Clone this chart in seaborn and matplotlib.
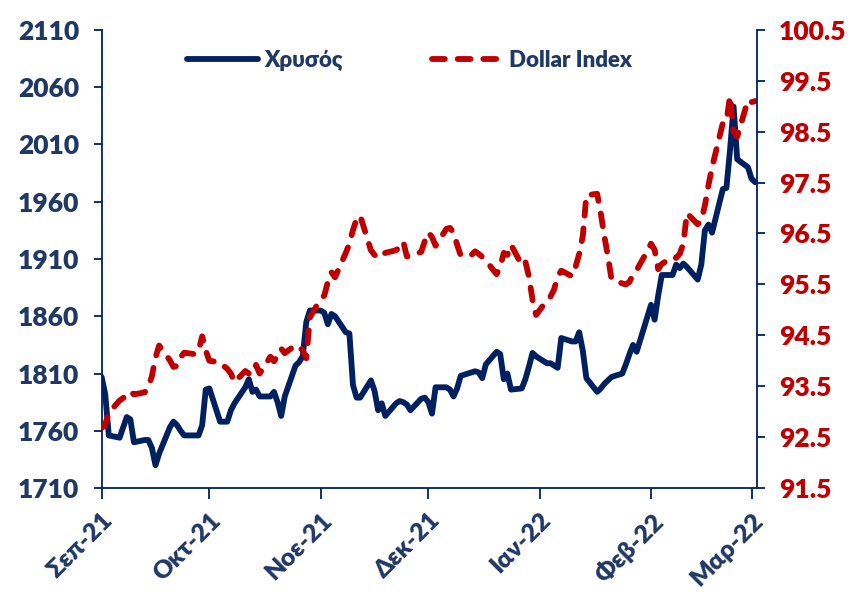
import numpy as np
import pandas as pd
import matplotlib
matplotlib.use("Agg")
import matplotlib.pyplot as plt
import seaborn as sns


NAVY = "#002060"
TEXT_NAVY = "#203864"
RED = "#C00000"

# business days, 1 Sep 2021 -> 2 Mar 2022
dates = pd.bdate_range("2021-09-01", "2022-03-02")

gold = [
	# Sep
	1807, 1792, 1756, 1754, 1763, 1772, 1770, 1750, 1752, 1752, 1745,
	1730, 1740, 1763, 1768, 1765, 1760, 1756, 1756, 1756, 1765, 1796,
	# Oct
	1797, 1768, 1768, 1768, 1778, 1784, 1798, 1805, 1794, 1796, 1790,
	1790, 1794, 1785, 1773, 1790, 1817, 1820, 1825, 1855, 1865,
	# Nov
	1865, 1863, 1853, 1862, 1860, 1846, 1845, 1800, 1789, 1789, 1804,
	1795, 1778, 1784, 1773, 1784, 1786, 1785, 1783, 1778, 1788, 1789,
	# Dec
	1785, 1775, 1798, 1798, 1796, 1790, 1797, 1808, 1811, 1812, 1811,
	1806, 1818, 1829, 1827, 1805, 1810, 1796, 1797, 1805, 1816, 1828, 1825,
	# Jan
	1819, 1819, 1817, 1815, 1841, 1838, 1838, 1846, 1830, 1806, 1794,
	1797, 1801, 1804, 1807, 1810, 1818, 1827, 1835, 1829, 1860,
	# Feb
	1870, 1857, 1878, 1896, 1896, 1905, 1902, 1906, 1903, 1892,
	1905, 1935, 1940, 1933, 1971, 1972, 2005, 2043, 1997, 1990,
	# Mar
	1980, 1977,
]

dollar_index = [
	# Sep
	92.68, 92.75, 92.98, 93.22, 93.27, 93.33, 93.40, 93.34, 93.38, 93.48, 93.70,
	94.06, 94.30, 94.01, 93.88, 93.90, 94.07, 94.16, 94.13, 94.20, 94.48, 94.20,
	# Oct
	94.00, 93.97, 93.90, 93.84, 93.75, 93.58, 93.80, 93.75, 93.74, 93.92, 93.75,
	94.08, 93.99, 94.10, 94.24, 94.15, 94.31, 94.26, 94.21, 94.05, 94.85,
	# Nov
	95.22, 95.28, 95.55, 95.74, 95.64, 96.12, 96.30, 96.57, 96.78, 96.85, 96.17,
	96.08, 96.02, 96.07, 96.12, 96.17, 96.24, 96.34, 96.05, 96.05, 96.14, 96.35,
	# Dec
	96.52, 96.43, 96.26, 96.59, 96.61, 96.52, 96.28, 96.07, 96.08, 96.15, 96.10,
	96.04, 95.97, 95.70, 95.85, 96.12, 96.08, 96.28, 95.88, 95.95, 95.65, 95.20, 94.90,
	# Jan
	95.19, 95.26, 95.40, 95.65, 95.77, 95.66, 95.85, 96.10, 96.45, 97.25, 97.28,
	96.90, 96.45, 96.05, 95.60, 95.52, 95.50, 95.55, 95.70, 95.78, 96.16,
	# Feb
	96.30, 96.18, 95.80, 95.90, 96.04, 96.02, 96.10, 96.30, 96.90, 96.68,
	96.75, 97.05, 97.45, 97.80, 98.67, 98.70, 99.20, 98.50, 98.40, 99.12,
	# Mar
	99.08, 99.10,
]

month_starts = pd.to_datetime([
	"2021-09-01", "2021-10-01", "2021-11-01", "2021-12-01",
	"2022-01-01", "2022-02-01", "2022-03-01",
])
month_labels = ["Σεπ-21", "Οκτ-21", "Νοε-21", "Δεκ-21", "Ιαν-22", "Φεβ-22", "Μαρ-22"]

gold_ticks = list(range(1710, 2111, 50))
dxy_ticks = [91.5, 92.5, 93.5, 94.5, 95.5, 96.5, 97.5, 98.5, 99.5, 100.5]


def main():
	sns.set_theme(style="white")
	plt.rcParams["font.family"] = ["Lato", "DejaVu Sans"]
	plt.rcParams["font.weight"] = "heavy"

	df = pd.DataFrame({"date": dates, "gold": gold, "dxy": dollar_index})

	fig, ax = plt.subplots(figsize=(8.54, 5.96), dpi=100)
	fig.subplots_adjust(left=0.119, right=0.886, top=0.950, bottom=0.181)
	ax2 = ax.twinx()

	sns.lineplot(data=df, x="date", y="gold", ax=ax, color=NAVY,
		linewidth=4.2, label="Χρυσός", legend=False)
	sns.lineplot(data=df, x="date", y="dxy", ax=ax2, color=RED,
		linewidth=4.2, linestyle=(0, (2.2, 2.2)), dash_capstyle="round",
		label="Dollar Index", legend=False)

	ax.set_xlim(pd.Timestamp("2021-09-01"), pd.Timestamp("2022-03-02 10:00"))
	ax.set_ylim(1710, 2110)
	ax2.set_ylim(91.5, 100.5)
	ax.set_yticks(gold_ticks)
	ax2.set_yticks(dxy_ticks)
	ax.set_xticks(month_starts)
	ax.set_xticklabels(month_labels, rotation=45, ha="right", rotation_mode="anchor")

	ax.set_xlabel("")
	ax.set_ylabel("")
	ax2.set_ylabel("")

	for a in (ax, ax2):
		for side in ("left", "right", "bottom"):
			a.spines[side].set_color(NAVY)
			a.spines[side].set_linewidth(1.3)
		a.spines["top"].set_visible(False)
	ax2.spines["left"].set_visible(False)
	ax2.spines["bottom"].set_visible(False)
	ax.spines["right"].set_visible(False)

	ax.tick_params(axis="y", left=True, length=6, width=1.3, color=NAVY,
		labelsize=19, labelcolor=TEXT_NAVY, pad=10)
	ax.tick_params(axis="x", bottom=True, length=8, width=1.3, color=NAVY,
		labelsize=18, labelcolor=TEXT_NAVY, pad=7)
	ax2.tick_params(axis="y", right=True, length=6, width=1.3, color=NAVY,
		labelsize=19, labelcolor=RED, pad=10)
	for lab in ax.get_yticklabels() + ax.get_xticklabels() + ax2.get_yticklabels():
		lab.set_fontweight("heavy")

	h1, l1 = ax.get_legend_handles_labels()
	h2, l2 = ax2.get_legend_handles_labels()
	leg = ax2.legend(h1 + h2, l1 + l2, loc="upper center", bbox_to_anchor=(0.47, 1.0),
		ncol=2, frameon=False, handlelength=3.2, columnspacing=4.0,
		handletextpad=0.3, prop={"size": 16, "weight": "heavy"})
	for t in leg.get_texts():
		t.set_color(TEXT_NAVY)

	fig.savefig("out.png", dpi=100, facecolor="white")


if __name__ == "__main__":
	main()
